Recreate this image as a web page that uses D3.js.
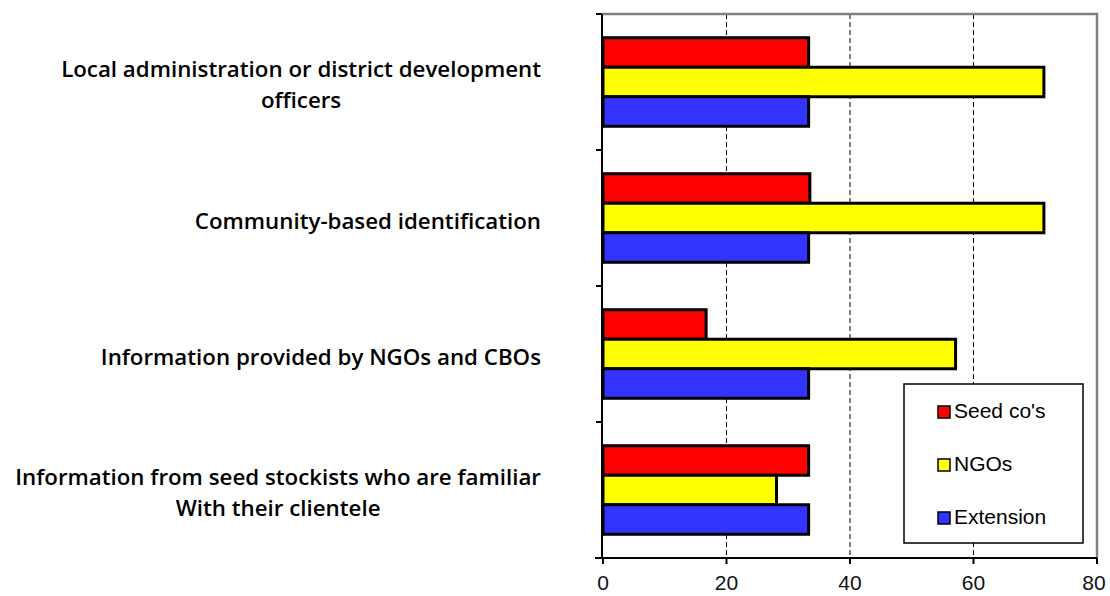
<!DOCTYPE html>
<html><head><meta charset="utf-8">
<script src="https://cdn.jsdelivr.net/npm/d3@7"></script>
<style>body{margin:0;background:#fff}svg{display:block}</style>
</head><body>
<svg id="c" width="1110" height="596"></svg>
<script>
const categories = [
  ["Local administration or district development", "officers"],
  ["Community-based identification"],
  ["Information provided by NGOs and CBOs"],
  ["Information from seed stockists who are familiar", "With their clientele"]
];
const seriesNames = ["Seed co's", "NGOs", "Extension"];
const seedCos   = [33.3, 33.5, 16.7, 33.3];
const ngos      = [71.4, 71.4, 57.1, 28.1];
const extension = [33.3, 33.3, 33.3, 33.3];
const xTicks = [0, 20, 40, 60, 80];
const colors = ["#FF0000", "#FFFF00", "#3333FF"];

const series = [seedCos, ngos, extension];
const svg = d3.select("#c");
const L = 603, R = 1097, T = 14, B = 558;

const x = d3.scaleLinear().domain([0, 80]).range([L, R]);
const y = d3.scaleBand().domain(d3.range(categories.length)).range([T, B])
  .paddingInner(0.349).paddingOuter(0.1745);
const ys = d3.scaleBand().domain(d3.range(series.length)).range([0, y.bandwidth()]).padding(0);

// gridlines
svg.append("g").selectAll("line").data(xTicks.filter(d => d > 0 && d < 80)).join("line")
  .attr("x1", d => x(d)).attr("x2", d => x(d)).attr("y1", T).attr("y2", B)
  .attr("stroke", "#000").attr("stroke-width", 1).attr("stroke-dasharray", "5,3");

// plot border top/right (gray)
svg.append("path").attr("d", `M${L-1},${T}H${R}V${B}`)
  .attr("fill", "none").attr("stroke", "#808080").attr("stroke-width", 2.5);

// bars
const g = svg.append("g");
categories.forEach((c, i) => {
  series.forEach((s, j) => {
    g.append("rect")
      .attr("x", x(0)).attr("y", y(i) + ys(j))
      .attr("width", x(s[i]) - x(0)).attr("height", ys.bandwidth())
      .attr("fill", colors[j]).attr("stroke", "#000").attr("stroke-width", 3);
  });
});

// left axis
svg.append("line").attr("x1", L - 1).attr("x2", L - 1).attr("y1", T).attr("y2", B)
  .attr("stroke", "#000").attr("stroke-width", 2);
svg.append("g").selectAll("line").data(d3.range(categories.length + 1)).join("line")
  .attr("x1", L - 7).attr("x2", L - 1)
  .attr("y1", d => T + d * y.step()).attr("y2", d => T + d * y.step())
  .attr("stroke", "#000").attr("stroke-width", 2);

// bottom axis
svg.append("line").attr("x1", L - 8).attr("x2", R).attr("y1", B).attr("y2", B)
  .attr("stroke", "#000").attr("stroke-width", 2);
svg.append("g").selectAll("line").data(xTicks).join("line")
  .attr("x1", d => x(d)).attr("x2", d => x(d)).attr("y1", B).attr("y2", B + 6)
  .attr("stroke", "#000").attr("stroke-width", 2);
svg.append("g").selectAll("text").data(xTicks).join("text")
  .attr("x", d => Math.min(x(d), 1094)).attr("y", 590).attr("text-anchor", "middle")
  .attr("font-family", "Liberation Sans, Arial, sans-serif").attr("font-size", 21)
  .attr("fill", "#111").text(d => d);

// category labels
const labelRight = 541;
categories.forEach((lines, i) => {
  const cy = y(i) + y.bandwidth() / 2 + 3;
  const lg = svg.append("g");
  const lh = 31;
  const ts = lines.map((t, k) => lg.append("text")
    .attr("y", cy + (k - (lines.length - 1) / 2) * lh)
    .attr("dy", "0.35em")
    .attr("font-family", "Open Sans, sans-serif").attr("font-weight", 600)
    .attr("font-size", 22.3).attr("fill", "#000").attr("text-anchor", "middle")
    .text(t));
  const w = d3.max(ts, t => t.node().getComputedTextLength());
  ts.forEach(t => t.attr("x", labelRight - w / 2));
});

// legend
const lgX = 904, lgY = 384, lgW = 179, lgH = 159;
const leg = svg.append("g");
leg.append("rect").attr("x", lgX).attr("y", lgY).attr("width", lgW).attr("height", lgH)
  .attr("fill", "#fff").attr("stroke", "#000").attr("stroke-width", 1.5);
seriesNames.forEach((n, j) => {
  const by = 418 + j * 53;
  leg.append("rect").attr("x", 938).attr("y", by - 12).attr("width", 12).attr("height", 12)
    .attr("fill", colors[j]).attr("stroke", "#000").attr("stroke-width", 1.5);
  leg.append("text").attr("x", 954).attr("y", by)
    .attr("font-family", "Liberation Sans, Arial, sans-serif").attr("font-size", 21)
    .attr("fill", "#000").text(n);
});
</script>
</body></html>
